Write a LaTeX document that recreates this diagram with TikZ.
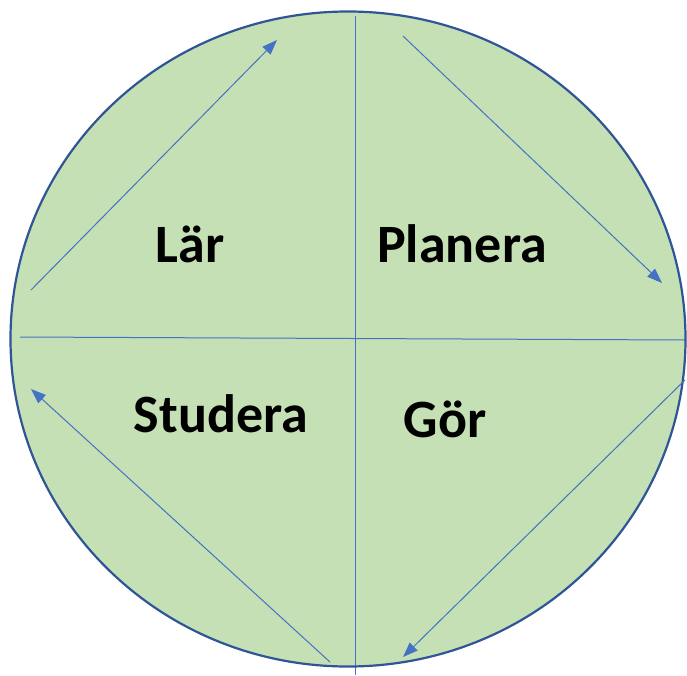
\documentclass[tikz,border=0pt]{standalone}
\usepackage{fontspec}
\setmainfont{Carlito}
\usetikzlibrary{arrows.meta}
\definecolor{fillg}{HTML}{C5E0B4}
\definecolor{rim}{HTML}{2F5597}
\definecolor{ln}{HTML}{4472C4}
\begin{document}
\begin{tikzpicture}[x=1pt,y=-1pt,
  axis/.style={draw=ln,line width=1pt},
  cyc/.style={draw=ln,line width=1pt,-{Triangle[length=15pt,width=11pt]}},
  lbl/.style={font=\fontsize{54}{64}\selectfont\bfseries,inner sep=0pt,anchor=base}]
\useasboundingbox (0,0) rectangle (687,675);
\fill[fillg] (348,339) ellipse [x radius=337.5, y radius=327.5];
\coordinate (vt) at (355,16);
\coordinate (vb) at (355,675);
\coordinate (hl) at (20,337);
\coordinate (hr) at (686,340);
\draw[axis] (vt) -- (vb);
\draw[axis] (hl) -- (hr);
\draw[draw=rim,line width=2.2pt] (348,339) ellipse [x radius=337.5, y radius=327.5];
\coordinate (a1s) at (31,290); \coordinate (a1e) at (277,40);
\coordinate (a2s) at (403,36); \coordinate (a2e) at (662,283);
\coordinate (a3s) at (685,380); \coordinate (a3e) at (403,657);
\coordinate (a4s) at (330,662); \coordinate (a4e) at (31,389);
\draw[cyc] (a1s) -- (a1e);
\draw[cyc] (a2s) -- (a2e);
\draw[cyc] (a3s) -- (a3e);
\draw[cyc] (a4s) -- (a4e);
\node[lbl] (lar) at (190,262) {Lär};
\node[lbl] (plan) at (462,262) {Planera};
\node[lbl] (stud) at (221,432) {Studera};
\node[lbl] (gor) at (445,437) {Gör};
\end{tikzpicture}
\end{document}
